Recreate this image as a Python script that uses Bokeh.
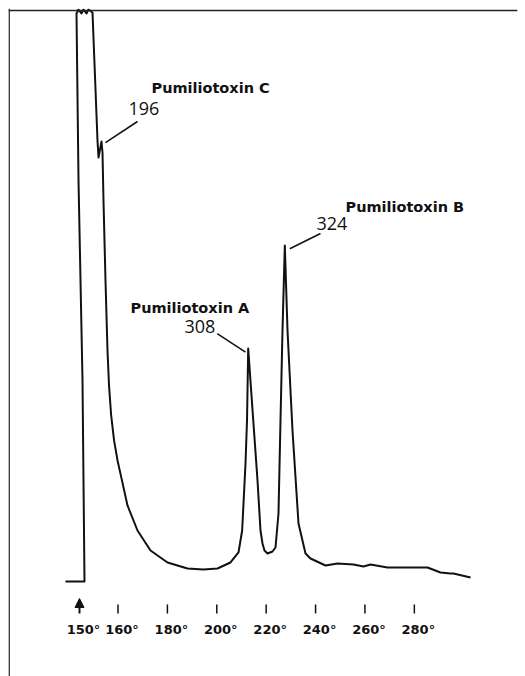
from bokeh.plotting import figure
from bokeh.models import Range1d, Span, Arrow, NormalHead, ColumnDataSource
from bokeh.core.properties import value
from bokeh.embed import file_html
from bokeh.resources import INLINE

# ---- data (x in column-temperature equivalent, y in detector response, % of full scale) ----
trace_x = [138.73, 146.43, 145.62, 144.0, 143.19, 144.0, 145.21, 146.03, 147.24, 148.05, 149.67,
           151.69, 152.10, 153.31, 153.72, 154.12, 154.93, 155.74, 156.35, 157.20, 158.40, 159.80,
           161.40, 163.84, 167.89, 173.16, 180.04, 188.14, 194.62, 200.29, 205.55, 208.79, 210.27,
           211.63, 212.24, 212.72, 214.46, 216.49, 217.70, 218.51, 219.32, 220.54, 222.56, 223.78,
           224.99, 225.80, 226.61, 227.55, 228.64, 230.66, 233.09, 235.93, 237.95, 244.03, 248.89,
           255.37, 259.42, 262.25, 269.13, 282.50, 285.33, 290.60, 294.65, 295.86, 302.75]
trace_y = [0.0, 0.0, 35.20, 70.23, 99.47, 100.17, 99.47, 100.17, 99.47, 100.17, 99.65,
           77.23, 74.26, 77.06, 75.13, 66.72, 52.71, 40.46, 34.40, 29.20, 24.70, 21.20,
           18.10, 13.31, 8.93, 5.43, 3.33, 2.28, 2.10, 2.28, 3.33, 5.08, 8.93,
           20.67, 28.20, 40.81, 30.10, 17.69, 8.93, 6.65, 5.43, 4.90, 5.25, 5.95,
           11.91, 28.20, 43.96, 58.84, 43.96, 26.44, 10.16, 4.90, 4.03, 2.80, 3.15,
           2.98, 2.63, 2.98, 2.45, 2.45, 2.45, 1.58, 1.40, 1.40, 0.70]

tick_temps = [160, 180, 200, 220, 240, 260, 280]
tick_labels = ["160°", "180°", "200°", "220°", "240°", "260°", "280°"]
inject_pos = 144.4
inject_label = "150°"

peak_names = ["Pumiliotoxin C", "Pumiliotoxin A", "Pumiliotoxin B"]
peak_masses = ["196", "308", "324"]

# ---- layout of annotations ----
name_x = [173.56, 165.06, 252.13]
name_y = [86.34, 47.81, 65.67]
mass_x = [164.25, 186.93, 240.38]
mass_y = [82.75, 44.57, 62.61]
lead_x0 = [154.93, 211.63, 229.57]
lead_y0 = [76.88, 40.16, 58.27]
lead_x1 = [167.89, 200.17, 242.0]
lead_y1 = [80.56, 43.43, 60.95]

p = figure(width=525, height=676, x_range=Range1d(115.65, 321.78), y_range=Range1d(-16.64, 100.35),
           x_axis_location=None, y_axis_location=None, toolbar_location=None,
           output_backend="svg", min_border_left=8, min_border_top=8,
           min_border_right=8, min_border_bottom=0)
p.grid.visible = False
p.outline_line_color = None
p.background_fill_color = "white"
p.border_fill_color = "white"

# frame (top and left edges)
p.add_layout(Span(location=100.0, dimension="width", line_color="#222222", line_width=1.5))
p.add_layout(Span(location=115.9, dimension="height", line_color="#222222", line_width=1.5))

# chromatogram trace
p.line(trace_x, trace_y, line_color="#111111", line_width=2, line_join="round")

# peak annotations
src = ColumnDataSource(dict(nx=name_x, ny=name_y, name=peak_names,
                            mx=mass_x, my=mass_y, mass=peak_masses,
                            x0=lead_x0, y0=lead_y0, x1=lead_x1, y1=lead_y1))
p.segment("x0", "y0", "x1", "y1", source=src, line_color="#111111", line_width=1.5)
p.text("nx", "ny", text="name", source=src, text_font=value("DejaVu Sans"), text_font_style="bold",
       text_font_size="14.5px", text_baseline="middle", text_align="left", text_color="#111111")
p.text("mx", "my", text="mass", source=src, text_font=value("Open Sans"),
       text_font_size="18px", text_baseline="middle", text_align="left", text_color="#111111")

# temperature ticks
tick_top = [-4.03] * len(tick_temps)
tick_bot = [-5.60] * len(tick_temps)
p.segment(tick_temps, tick_top, tick_temps, tick_bot, line_color="#111111", line_width=1.5)
p.add_layout(Arrow(end=NormalHead(size=9, fill_color="#111111", line_color="#111111"),
                   x_start=inject_pos, y_start=-5.60, x_end=inject_pos, y_end=-2.98,
                   line_color="#111111", line_width=2))
lab_x = [inject_pos] + tick_temps
lab_t = [inject_label] + tick_labels
p.text(lab_x, [-8.41] * len(lab_x), text=lab_t, text_font=value("DejaVu Sans"), text_font_style="bold",
       text_font_size="13px", text_baseline="middle", text_align="center", x_offset=4,
       text_color="#111111")

open("out.html", "w").write(file_html(p, INLINE))
